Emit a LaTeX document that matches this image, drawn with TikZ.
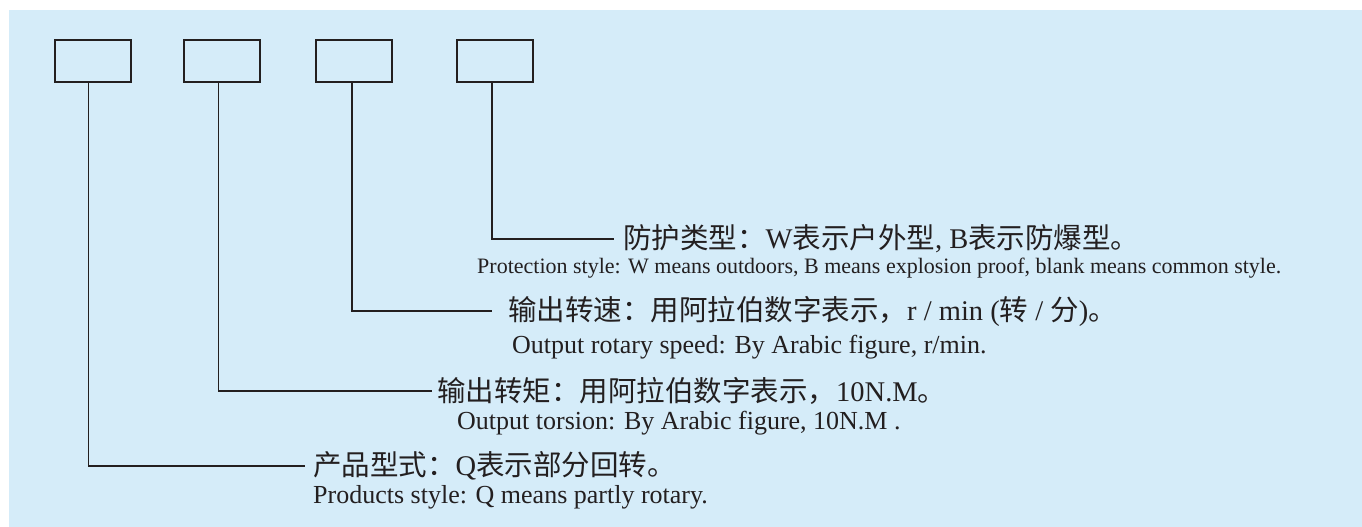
\documentclass[tikz,border=0pt]{standalone}
\usepackage{fontspec}
\setmainfont{Liberation Serif}
\newfontfamily\zh{Noto Sans CJK SC}
\definecolor{bg}{RGB}{213,236,249}
\definecolor{ink}{RGB}{35,31,32}
\begin{document}
\begin{tikzpicture}[x=1pt,y=-1pt,
  codebox/.style={draw=ink, line width=2.4pt, minimum width=76pt, minimum height=42pt, inner sep=0pt, anchor=north west},
  lead/.style={draw=ink, line width=1.8pt},
  zhtext/.style={anchor=west, inner sep=0pt, text=ink, font=\fontsize{28.5}{32}\selectfont},
  entext/.style={anchor=west, inner sep=0pt, text=ink, font=\fontsize{26}{30}\selectfont},
  ensmall/.style={entext, font=\fontsize{22}{26}\selectfont}]
\useasboundingbox (0,0) rectangle (1362,527);
\fill[bg] (8.6,10) rectangle (1362,527);
% boxes
\node[codebox] (b1) at (54,39) {};
\node[codebox] (b2) at (183,39) {};
\node[codebox] (b3) at (315,39) {};
\node[codebox] (b4) at (456,39) {};
% Chinese texts
\node[zhtext] (z4) at (623,239) {{\zh 防护类型：}W{\zh 表示户外型}, B{\zh 表示防爆型。}};
\node[zhtext] (z3) at (508,311) {{\zh 输出转速：用阿拉伯数字表示，}r / min ({\zh 转} / {\zh 分}){\zh 。}};
\node[zhtext] (z2) at (437,391) {{\zh 输出转矩：用阿拉伯数字表示，}10N.M{\zh 。}};
\node[zhtext] (z1) at (313,466) {{\zh 产品型式：}Q{\zh 表示部分回转。}};
% English texts
\node[ensmall] (e4) at (477,268) {Protection style: W means outdoors, B means explosion proof, blank means common style.};
\node[entext] (e3) at (512,347) {Output rotary speed: By Arabic figure, r/min.};
\node[entext] (e2) at (457,423) {Output torsion: By Arabic figure, 10N.M .};
\node[entext] (e1) at (313,497) {Products style: Q means partly rotary.};
% corners
\coordinate (j1) at (88.5,466);
\coordinate (j2) at (218.5,391);
\coordinate (j3) at (352,311);
\coordinate (j4) at (492,239);
% leaders
\draw[lead] (j1 |- b1.south) -- (j1) -- ([xshift=-8pt]z1.west);
\draw[lead] (j2 |- b2.south) -- (j2) -- ([xshift=-5pt]z2.west);
\draw[lead] (j3 |- b3.south) -- (j3) -- ([xshift=-16pt]z3.west);
\draw[lead] (j4 |- b4.south) -- (j4) -- ([xshift=-9pt]z4.west);
\end{tikzpicture}
\end{document}
